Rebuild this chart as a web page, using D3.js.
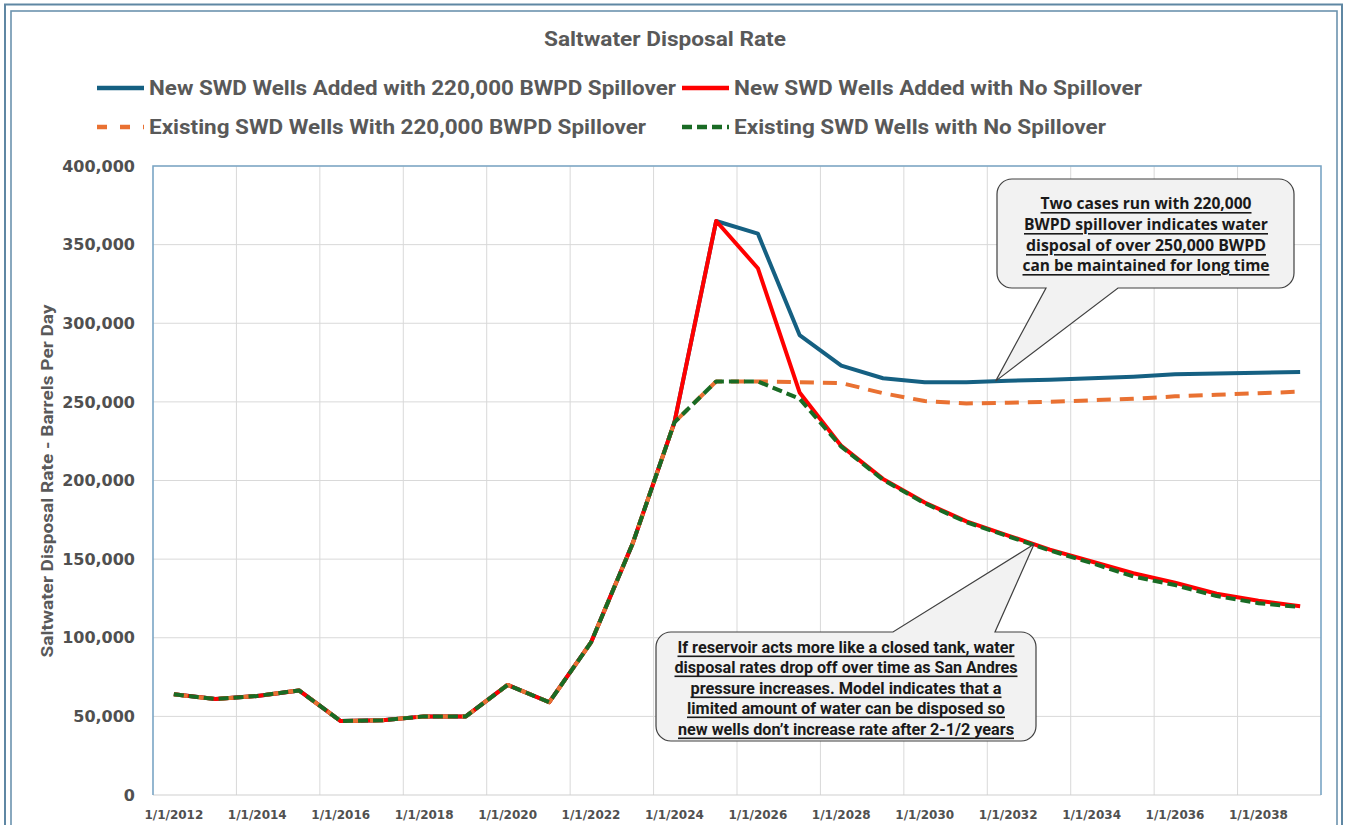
<!DOCTYPE html>
<html>
<head>
<meta charset="utf-8">
<script src="https://cdn.jsdelivr.net/npm/d3@7"></script>
<style>
  html, body { margin: 0; padding: 0; background: #ffffff; }
  svg { display: block; }
</style>
</head>
<body>
<svg id="chart" width="1346" height="825"></svg>
<script>
// ---- Data -------------------------------------------------------------
const categories = [
  "1/1/2012","1/1/2013","1/1/2014","1/1/2015","1/1/2016","1/1/2017","1/1/2018",
  "1/1/2019","1/1/2020","1/1/2021","1/1/2022","1/1/2023","1/1/2024","1/1/2025",
  "1/1/2026","1/1/2027","1/1/2028","1/1/2029","1/1/2030","1/1/2031","1/1/2032",
  "1/1/2033","1/1/2034","1/1/2035","1/1/2036","1/1/2037","1/1/2038","1/1/2039"
];

const tickLabels = [
  "1/1/2012","1/1/2014","1/1/2016","1/1/2018","1/1/2020","1/1/2022","1/1/2024",
  "1/1/2026","1/1/2028","1/1/2030","1/1/2032","1/1/2034","1/1/2036","1/1/2038"
];

const yTicks = [0, 50000, 100000, 150000, 200000, 250000, 300000, 350000, 400000];

// Barrels per day, one value per category
const newWellsSpillover = [
  64000, 61000, 63000, 66500, 47000, 47500, 50000, 50000, 70000, 59000, 97000, 160000, 237000,
  365000, 357000, 292500, 273000, 265000, 262500, 262500, 263500, 264000, 265000, 266000,
  267500, 268000, 268500, 269000
];
const newWellsNoSpillover = [
  64000, 61000, 63000, 66500, 47000, 47500, 50000, 50000, 70000, 59000, 97000, 160000, 237000,
  365000, 335000, 256000, 222000, 201000, 186000, 174000, 165000, 156000, 148500, 141000,
  135000, 128000, 123500, 120000
];
const existingSpillover = [
  64000, 61000, 63000, 66500, 47000, 47500, 50000, 50000, 70000, 59000, 97000, 160000, 237000,
  263000, 263000, 262500, 262000, 255500, 250500, 249000, 249500, 250000, 251000, 252000,
  253500, 254500, 255500, 256500
];
const existingNoSpillover = [
  64000, 61000, 63000, 66500, 47000, 47500, 50000, 50000, 70000, 59000, 97000, 160000, 237000,
  263000, 263000, 252000, 221500, 200500, 185500, 173500, 164500, 155500, 147500, 139000,
  133500, 126500, 122000, 119500
];

const seriesNames = [
  "New SWD Wells Added with 220,000 BWPD Spillover",
  "New SWD Wells Added with No Spillover",
  "Existing SWD Wells With 220,000 BWPD Spillover",
  "Existing SWD Wells with No Spillover"
];

const upperNote = [
  "Two cases run with 220,000",
  "BWPD spillover indicates water",
  "disposal of over 250,000 BWPD",
  "can be maintained for long time"
];
const lowerNote = [
  "If reservoir acts more like a closed tank, water",
  "disposal rates drop off over time as San Andres",
  "pressure increases. Model indicates that a",
  "limited amount of water can be disposed so",
  "new wells don\u2019t increase rate after 2-1/2 years"
];

// ---- Styling ----------------------------------------------------------
const series = [
  { name: seriesNames[0], values: newWellsSpillover,   color: "#156082", dash: null,   legendDash: null },
  { name: seriesNames[1], values: newWellsNoSpillover, color: "#FF0000", dash: null,   legendDash: null },
  { name: seriesNames[2], values: existingSpillover,   color: "#E97132", dash: "14,9", legendDash: "10,13" },
  { name: seriesNames[3], values: existingNoSpillover, color: "#196B24", dash: "10,5", legendDash: "10,5" }
];

const narrow = "'Liberation Sans Narrow', 'Arial Narrow', 'Roboto', sans-serif";
const wideBold = "'DejaVu Sans', 'Verdana', sans-serif";
const textGray = "#595959";

const svg = d3.select("#chart");
const W = 1346, H = 825;

svg.append("rect").attr("width", W).attr("height", H).attr("fill", "#ffffff");

// Chart frame (double border)
svg.append("rect").attr("x", 5).attr("y", 4.5).attr("width", 1337).attr("height", 840)
  .attr("fill", "none").attr("stroke", "#5F87A3").attr("stroke-width", 2);
svg.append("rect").attr("x", 11).attr("y", 11).attr("width", 1326).attr("height", 830)
  .attr("fill", "none").attr("stroke", "#6C93AE").attr("stroke-width", 1.6);

// ---- Scales -----------------------------------------------------------
const plot = { left: 153, right: 1321, top: 166, bottom: 795 };
const x = d3.scaleBand().domain(categories).range([plot.left, plot.right]).paddingInner(0).paddingOuter(0);
const y = d3.scaleLinear().domain([0, 400000]).range([plot.bottom, plot.top]);
const bw = x.bandwidth();
const cx = c => x(c) + bw / 2;

// ---- Gridlines --------------------------------------------------------
const grid = svg.append("g");
grid.selectAll("line.h").data(yTicks.filter(v => v > 0)).join("line")
  .attr("x1", plot.left).attr("x2", plot.right)
  .attr("y1", d => y(d)).attr("y2", d => y(d))
  .attr("stroke", "#D9D9D9").attr("stroke-width", 1);
// vertical gridlines at category boundaries between labelled pairs
grid.selectAll("line.v").data(categories.filter((c, i) => i > 0 && i % 2 === 0)).join("line")
  .attr("x1", d => x(d)).attr("x2", d => x(d))
  .attr("y1", plot.top).attr("y2", plot.bottom)
  .attr("stroke", "#D9D9D9").attr("stroke-width", 1);

// bottom edge of the plot area
svg.append("line").attr("x1", plot.left).attr("x2", plot.right)
  .attr("y1", plot.bottom).attr("y2", plot.bottom)
  .attr("stroke", "#D0D0D0").attr("stroke-width", 1.2);
// plot area outline (left, top, right)
svg.append("path")
  .attr("d", `M${plot.left},${plot.bottom} V${plot.top} H${plot.right} V${plot.bottom}`)
  .attr("fill", "none").attr("stroke", "#7AA5C5").attr("stroke-width", 1.6);

// ---- Axes -------------------------------------------------------------
const yAxis = svg.append("g")
  .attr("transform", `translate(${plot.left},0)`)
  .call(d3.axisLeft(y).tickValues(yTicks).tickFormat(d3.format(",")).tickSize(0).tickPadding(18));
yAxis.select(".domain").remove();
yAxis.selectAll("text")
  .attr("font-family", wideBold).attr("font-weight", "bold").attr("font-size", 16)
  .attr("fill", "#505050");

const xAxis = svg.append("g")
  .attr("transform", `translate(0,${plot.bottom})`)
  .call(d3.axisBottom(x).tickValues(tickLabels).tickSize(0).tickPadding(15));
xAxis.select(".domain").remove();
xAxis.selectAll("text")
  .attr("font-family", wideBold).attr("font-weight", "bold").attr("font-size", 12)
  .attr("fill", "#505050");

// Axis title
svg.append("text")
  .attr("transform", "translate(47,481) rotate(-90)")
  .attr("text-anchor", "middle").attr("dominant-baseline", "central")
  .attr("font-family", narrow).attr("font-weight", "bold").attr("font-size", 17)
  .attr("fill", textGray)
  .attr("textLength", 353).attr("lengthAdjust", "spacingAndGlyphs")
  .text("Saltwater Disposal Rate - Barrels Per Day");

// Chart title
svg.append("text")
  .attr("x", 665).attr("y", 39)
  .attr("text-anchor", "middle").attr("dominant-baseline", "central")
  .attr("font-family", narrow).attr("font-weight", "bold").attr("font-size", 20)
  .attr("fill", textGray)
  .attr("textLength", 242).attr("lengthAdjust", "spacingAndGlyphs")
  .text("Saltwater Disposal Rate");

// ---- Legend -----------------------------------------------------------
const legendItems = [
  { s: series[0], lx: 97,  ly: 88,  w: 527 },
  { s: series[1], lx: 682, ly: 88,  w: 408 },
  { s: series[2], lx: 97,  ly: 127, w: 497 },
  { s: series[3], lx: 682, ly: 127, w: 372 }
];
const legend = svg.append("g");
legendItems.forEach(it => {
  legend.append("line")
    .attr("x1", it.lx).attr("x2", it.lx + 47).attr("y1", it.ly).attr("y2", it.ly)
    .attr("stroke", it.s.color).attr("stroke-width", 4.5)
    .attr("stroke-dasharray", it.s.legendDash);
  legend.append("text")
    .attr("x", it.lx + 52).attr("y", it.ly)
    .attr("dominant-baseline", "central")
    .attr("font-family", narrow).attr("font-weight", "bold").attr("font-size", 20)
    .attr("fill", textGray)
    .attr("textLength", it.w).attr("lengthAdjust", "spacingAndGlyphs")
    .text(it.s.name);
});

// ---- Series lines -----------------------------------------------------
const line = d3.line().x((d, i) => cx(categories[i])).y(d => y(d));
svg.append("g").selectAll("path").data(series).join("path")
  .attr("d", d => line(d.values))
  .attr("fill", "none")
  .attr("stroke", d => d.color)
  .attr("stroke-width", 4)
  .attr("stroke-linejoin", "round")
  .attr("stroke-dasharray", d => d.dash);

// ---- Callouts ---------------------------------------------------------
// point located a fraction t of the way between category i and i+1 of a series
function along(values, i, t) {
  return [cx(categories[i]) + t * bw, y(values[i] + t * (values[i + 1] - values[i]))];
}

function calloutPath(b, r, side, b0, b1, tip) {
  const [x0, y0, x1, y1] = b;
  let p = `M${x0 + r},${y0}`;
  if (side === "top") p += ` L${b0},${y0} L${tip[0]},${tip[1]} L${b1},${y0}`;
  p += ` L${x1 - r},${y0} A${r},${r} 0 0 1 ${x1},${y0 + r}`;
  p += ` L${x1},${y1 - r} A${r},${r} 0 0 1 ${x1 - r},${y1}`;
  if (side === "bottom") p += ` L${b1},${y1} L${tip[0]},${tip[1]} L${b0},${y1}`;
  p += ` L${x0 + r},${y1} A${r},${r} 0 0 1 ${x0},${y1 - r}`;
  p += ` L${x0},${y0 + r} A${r},${r} 0 0 1 ${x0 + r},${y0} Z`;
  return p;
}

function drawCallout(cfg) {
  const g = svg.append("g");
  g.append("path")
    .attr("d", calloutPath(cfg.box, 15, cfg.side, cfg.b0, cfg.b1, cfg.tip))
    .attr("fill", "#F2F2F2").attr("stroke", "#404040").attr("stroke-width", 1.2);
  cfg.lines.forEach((t, i) => {
    g.append("text")
      .attr("x", cfg.cx).attr("y", cfg.ys[i])
      .attr("text-anchor", "middle").attr("dominant-baseline", "central")
      .attr("font-family", cfg.font).attr("font-weight", "bold").attr("font-size", cfg.size)
      .attr("fill", "#1a1a1a")
      .attr("text-decoration", "underline")
      .attr("textLength", cfg.widths[i]).attr("lengthAdjust", "spacingAndGlyphs")
      .text(t);
  });
}

drawCallout({
  box: [997, 179, 1294, 288], side: "bottom", b0: 1046, b1: 1118,
  tip: along(newWellsSpillover, 19, 0.7),
  lines: upperNote, cx: 1146, ys: [203, 224, 245, 265],
  widths: [211, 244, 240, 247], size: 16, font: "'Open Sans', 'Noto Sans', sans-serif"
});

drawCallout({
  box: [656, 632, 1036, 741], side: "top", b0: 893, b1: 995,
  tip: along(newWellsNoSpillover, 20, 0.62),
  lines: lowerNote, cx: 846, ys: [647, 667, 688, 708, 729],
  widths: [337, 343, 311, 318, 336], size: 16, font: narrow
});
</script>
</body>
</html>
